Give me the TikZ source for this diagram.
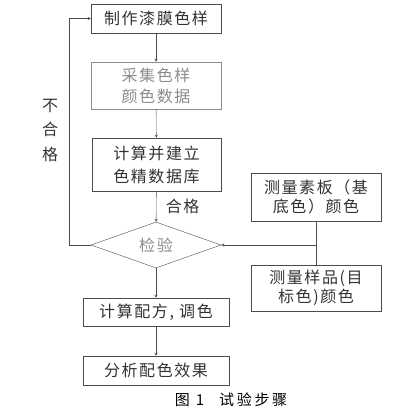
\documentclass[tikz,border=0pt]{standalone}
\usepackage{fontspec}
\setmainfont{Noto Sans CJK SC}[LetterSpace=10]
\usepackage{xcolor}
\usepackage{tikz}
\usetikzlibrary{shapes.geometric, arrows, calc, positioning}

\definecolor{linegray}{gray}{0.3}
\definecolor{textgray}{gray}{0.2}
\definecolor{palegray}{gray}{0.55}

\begin{document}
\begin{tikzpicture}[x=1pt, y=-1pt, arrow/.style = {linegray, -stealth}]
				\tikzset{stage/.style={draw=linegray, rectangle, inner sep=0pt, align=center, text=textgray, font=\fontsize{16}{21}\selectfont}}
				\useasboundingbox (0,0) rectangle (405,412);

				\node[stage, minimum width=130pt, minimum height=29pt] (make) at (156,18.5) {制作漆膜色样};
				\node[stage, minimum width=130pt, minimum height=47pt, draw=palegray, text=palegray] (collect) at (156,85.5) {采集色样\\颜色数据};
				\node[stage, minimum width=129pt, minimum height=53pt, font=\fontsize{16}{23}\selectfont] (build) at (156.5,164.5) {计算并建立\\色精数据库};

				\node[draw=linegray, diamond, minimum width=130pt, minimum height=46pt, shape aspect=2.8, inner sep=0pt, text=palegray, font=\fontsize{16}{18}\selectfont] (check) at (156,245) {检验};

				\node[stage, minimum width=130pt, minimum height=48pt, font=\fontsize{16}{19}\selectfont] (base) at (316,197) {测量素板（基\\底色）颜色};
				\node[stage, minimum width=130pt, minimum height=46pt, font=\fontsize{16}{19}\selectfont] (sample) at (316,288) {测量样品(目\\标色)颜色};

				\node[stage, minimum width=146pt, minimum height=28pt] (recipe) at (156,312) {计算配方, 调色};
				\node[stage, minimum width=146pt, minimum height=29pt] (effect) at (156,370.5) {分析配色效果};

				\node[text=textgray, align=center, font=\fontsize{16}{24.5}\selectfont] (fail) at (50,130) {不\\合\\格};

				\draw [arrow] (make) -- (collect);
				\draw [arrow] (collect) -- (build);
				\draw [arrow] (build) -- node [right=6pt, text=textgray, font=\fontsize{16}{18}\selectfont] (pass) {合格} (check);
				\draw [arrow] (check) -- (recipe);
				\draw [arrow] (recipe) -- (effect);

				\draw [arrow] (check.west) -- ++(-22,0) |- (make.west);

				\draw [linegray] (base) -- (sample);
				\draw [arrow] (base.south |- check.east) -- (check.east);

				\node[text=black, font=\fontsize{15}{17}\selectfont\addfontfeatures{LetterSpace=18}] (caption) at (231,400) {图 1\quad 试验步骤};

			\end{tikzpicture}
\end{document}
